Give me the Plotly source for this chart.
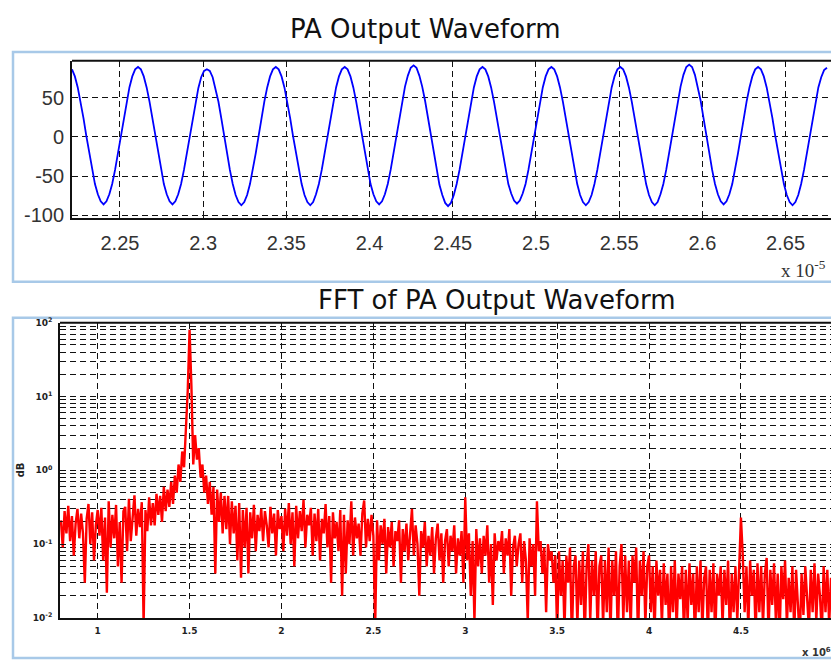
import numpy as np
import plotly.graph_objects as go

W, H = 831, 667

# ---- PA output waveform samples (time axis in units of 1e-5 s) ----
T_START = 2.2212
T_STEP = 0.001725
pa_output = [
    86, 77, 63, 45, 24, 1, -21, -42, -60, -73, -82, -86, -82, -73, -60, -42, -21, 1, 24, 45, 63, 77, 86, 89,
    86, 77, 63, 45, 24, 2, -21, -42, -60, -73, -82, -86, -82, -73, -60, -42, -21, 1, 24, 45, 62, 76, 84, 86,
    84, 76, 62, 45, 24, 1, -21, -42, -60, -74, -83, -87, -83, -74, -60, -42, -21, 1, 24, 45, 63, 77, 86, 89,
    86, 77, 63, 45, 24, 1, -21, -42, -60, -74, -83, -87, -83, -73, -60, -42, -21, 1, 24, 45, 63, 77, 86, 89,
    86, 77, 63, 45, 24, 1, -21, -42, -60, -73, -82, -86, -82, -73, -60, -42, -21, 1, 24, 46, 64, 78, 88, 91,
    88, 78, 64, 46, 24, 1, -21, -43, -61, -74, -84, -88, -84, -74, -60, -42, -21, 1, 24, 45, 63, 77, 86, 89,
    86, 77, 63, 45, 24, 1, -21, -42, -60, -72, -81, -85, -81, -72, -60, -42, -21, 1, 24, 45, 63, 77, 86, 89,
    86, 77, 63, 45, 24, 1, -21, -42, -60, -74, -83, -87, -83, -74, -60, -42, -21, 1, 24, 45, 63, 77, 86, 89,
    86, 77, 63, 45, 24, 1, -21, -42, -60, -74, -83, -87, -83, -73, -60, -42, -21, 1, 24, 46, 64, 79, 89, 92,
    89, 79, 64, 46, 24, 1, -21, -42, -60, -73, -82, -86, -82, -73, -60, -42, -21, 1, 24, 45, 63, 77, 86, 89,
    86, 77, 63, 45, 24, 1, -21, -42, -60, -74, -83, -87, -83, -74, -60, -42, -21, 1, 24, 45, 63, 76, 85, 88,
]

# ---- FFT magnitude of the waveform, one row per 0.1 of the frequency axis ----
F_START = 0.80
F_STEP = 0.01
fft_mag = [
    0.21, 0.09, 0.28, 0.14, 0.33, 0.11, 0.24, 0.07, 0.19, 0.30,      # 0.8
    0.12, 0.26, 0.14, 0.03, 0.22, 0.35, 0.10, 0.27, 0.06, 0.18,      # 0.9
    0.29, 0.13, 0.31, 0.06, 0.23, 0.022, 0.38, 0.09, 0.25, 0.12,     # 1.0
    0.34, 0.05, 0.20, 0.03, 0.28, 0.32, 0.08, 0.41, 0.11, 0.26,      # 1.1
    0.46, 0.13, 0.30, 0.17, 0.37, 0.008, 0.29, 0.15, 0.43, 0.18,     # 1.2
    0.36, 0.18, 0.48, 0.25, 0.45, 0.20, 0.60, 0.28, 0.55, 0.32,      # 1.3
    0.70, 0.35, 0.85, 0.50, 1.2, 0.70, 1.8, 1.1, 3.5, 12.0,          # 1.4
    80.0, 14.0, 1.2, 3.0, 1.4, 2.0, 0.80, 1.2, 0.50, 0.85,           # 1.5
    0.35, 0.70, 0.25, 0.60, 0.04, 0.55, 0.20, 0.50, 0.14, 0.45,      # 1.6
    0.16, 0.45, 0.10, 0.38, 0.14, 0.33, 0.06, 0.36, 0.035, 0.29,     # 1.7
    0.09, 0.31, 0.04, 0.27, 0.12, 0.34, 0.08, 0.25, 0.15, 0.30,      # 1.8
    0.11, 0.28, 0.18, 0.09, 0.32, 0.14, 0.26, 0.07, 0.29, 0.16,      # 1.9
    0.24, 0.08, 0.30, 0.13, 0.36, 0.10, 0.27, 0.05, 0.33, 0.12,      # 2.0
    0.28, 0.15, 0.40, 0.09, 0.25, 0.18, 0.31, 0.07, 0.26, 0.11,      # 2.1
    0.30, 0.06, 0.22, 0.14, 0.35, 0.09, 0.24, 0.03, 0.27, 0.12,      # 2.2
    0.20, 0.08, 0.29, 0.02, 0.25, 0.04, 0.21, 0.10, 0.38, 0.07,      # 2.3
    0.23, 0.12, 0.19, 0.07, 0.26, 0.39, 0.09, 0.22, 0.11, 0.25,      # 2.4
    0.13, 0.008, 0.21, 0.06, 0.18, 0.10, 0.22, 0.04, 0.17, 0.09,     # 2.5
    0.20, 0.05, 0.15, 0.11, 0.21, 0.03, 0.16, 0.08, 0.19, 0.06,      # 2.6
    0.14, 0.30, 0.07, 0.18, 0.10, 0.02, 0.15, 0.09, 0.20, 0.05,      # 2.7
    0.13, 0.07, 0.17, 0.04, 0.12, 0.19, 0.06, 0.14, 0.03, 0.11,      # 2.8
    0.16, 0.05, 0.13, 0.08, 0.18, 0.04, 0.12, 0.07, 0.15, 0.03,      # 2.9
    0.43, 0.06, 0.14, 0.02, 0.11, 0.009, 0.16, 0.05, 0.12, 0.04,     # 3.0
    0.13, 0.07, 0.18, 0.03, 0.10, 0.015, 0.14, 0.06, 0.11, 0.08,     # 3.1
    0.15, 0.04, 0.12, 0.07, 0.16, 0.02, 0.09, 0.13, 0.05, 0.10,      # 3.2
    0.14, 0.03, 0.11, 0.06, 0.009, 0.12, 0.05, 0.10, 0.02, 0.38,     # 3.3
    0.08, 0.11, 0.04, 0.09, 0.012, 0.10, 0.06, 0.08, 0.03, 0.07,     # 3.4
    0.006, 0.08, 0.02, 0.06, 0.007, 0.07, 0.03, 0.09, 0.005, 0.05,   # 3.5
    0.07, 0.008, 0.06, 0.015, 0.08, 0.005, 0.05, 0.10, 0.009, 0.06,  # 3.6
    0.02, 0.08, 0.006, 0.05, 0.07, 0.008, 0.06, 0.012, 0.09, 0.006,  # 3.7
    0.06, 0.02, 0.08, 0.005, 0.05, 0.10, 0.009, 0.07, 0.012, 0.06,   # 3.8
    0.007, 0.07, 0.03, 0.09, 0.005, 0.06, 0.02, 0.08, 0.008, 0.05,   # 3.9
    0.07, 0.012, 0.05, 0.006, 0.06, 0.02, 0.045, 0.008, 0.055, 0.015,# 4.0
    0.04, 0.005, 0.05, 0.012, 0.06, 0.007, 0.04, 0.018, 0.05, 0.006, # 4.1
    0.045, 0.009, 0.055, 0.015, 0.04, 0.005, 0.05, 0.012, 0.06, 0.007,# 4.2
    0.035, 0.05, 0.006, 0.045, 0.012, 0.055, 0.005, 0.04, 0.02, 0.05,# 4.3
    0.008, 0.045, 0.015, 0.06, 0.005, 0.04, 0.012, 0.05, 0.009, 0.035,# 4.4
    0.23, 0.07, 0.012, 0.05, 0.007, 0.06, 0.02, 0.045, 0.006, 0.055, # 4.5
    0.012, 0.05, 0.008, 0.04, 0.065, 0.006, 0.045, 0.015, 0.055, 0.009,# 4.6
    0.04, 0.005, 0.05, 0.018, 0.06, 0.008, 0.035, 0.012, 0.05, 0.006,# 4.7
    0.045, 0.015, 0.005, 0.04, 0.011, 0.05, 0.02, 0.007, 0.045, 0.012,# 4.8
    0.055, 0.009, 0.04, 0.02, 0.006, 0.05, 0.012, 0.045, 0.008, 0.035,# 4.9
    0.015, 0.05,                                                     # 5.0
]

# ---- axis ticks ----
time_ticks = [2.25, 2.3, 2.35, 2.4, 2.45, 2.5, 2.55, 2.6, 2.65]
time_ticklabels = ["2.25", "2.3", "2.35", "2.4", "2.45", "2.5", "2.55", "2.6", "2.65"]
amp_ticks = [-100, -50, 0, 50]
amp_ticklabels = ["-100", "-50", "0", "50"]
freq_ticks = [1, 1.5, 2, 2.5, 3, 3.5, 4, 4.5, 5]
freq_ticklabels = ["1", "1.5", "2", "2.5", "3", "3.5", "4", "4.5", "5"]
mag_ticks = [0.01, 0.1, 1, 10, 100]
mag_ticklabels = ["10<sup>-2</sup>", "10<sup>-1</sup>", "10<sup>0</sup>",
                  "10<sup>1</sup>", "10<sup>2</sup>"]
mag_minor = [m * 10.0 ** e for e in (-2, -1, 0, 1) for m in range(2, 10)]

t = T_START + T_STEP * np.arange(len(pa_output))
f = F_START + F_STEP * np.arange(len(fft_mag))


def px(xp):
    return xp / W


def py(yp):
    return 1 - yp / H


GRID = dict(showgrid=True, gridcolor="#111111", gridwidth=1.4, griddash="6px,4px")
LINE = dict(showline=True, linecolor="#111111", linewidth=1.8, zeroline=False)

fig = go.Figure()
fig.add_trace(go.Scatter(x=t, y=pa_output, mode="lines", xaxis="x", yaxis="y",
                         line=dict(color="#0000ff", width=1.8), hoverinfo="skip"))
fig.add_trace(go.Scatter(x=f, y=fft_mag, mode="lines", xaxis="x2", yaxis="y2",
                         line=dict(color="#ff0000", width=2.4), hoverinfo="skip"))

top_font = dict(family="Liberation Sans, Arial, sans-serif", size=20, color="#333333")
bot_font = dict(family="DejaVu Sans, Verdana, sans-serif", size=9, color="#222222", weight="bold")

fig.update_layout(
    width=W, height=H,
    margin=dict(l=0, r=0, t=0, b=0),
    paper_bgcolor="white", plot_bgcolor="white",
    showlegend=False,
    xaxis=dict(domain=[px(72), 1.0], range=[2.2212, 2.6773], anchor="y",
               tickmode="array", tickvals=time_ticks, ticktext=time_ticklabels,
               ticks="inside", ticklen=4, tickcolor="#111", tickfont=top_font,
               ticklabelstandoff=6, **GRID, **LINE),
    yaxis=dict(domain=[py(216), py(55)], range=[-103.4, 96.9], anchor="x",
               tickmode="array", tickvals=amp_ticks, ticktext=amp_ticklabels,
               ticks="inside", ticklen=4, tickcolor="#111", tickfont=top_font,
               ticklabelstandoff=2, **GRID, **LINE),
    xaxis2=dict(domain=[px(60), 1.0], range=[0.795, 4.99], anchor="y2",
                tickmode="array", tickvals=freq_ticks, ticktext=freq_ticklabels,
                ticks="inside", ticklen=4, tickcolor="#111", tickfont=bot_font,
                ticklabelstandoff=3, **GRID, **LINE),
    yaxis2=dict(domain=[py(625), py(323)], type="log", range=[-2, 2], anchor="x2",
                tickmode="array", tickvals=mag_ticks, ticktext=mag_ticklabels,
                ticks="inside", ticklen=4, tickcolor="#111", tickfont=bot_font,
                ticklabelstandoff=4,
                minor=dict(tickmode="array", tickvals=mag_minor, ticks="inside",
                           ticklen=2, tickcolor="#111", showgrid=True,
                           gridcolor="#111111", gridwidth=1.4, griddash="6px,4px"),
                **GRID, **LINE),
)

# top frame edges of both axes
for xr, yr in (("x domain", "y domain"), ("x2 domain", "y2 domain")):
    fig.add_shape(type="line", xref=xr, yref=yr, x0=0, x1=1, y0=1, y1=1,
                  line=dict(color="#111111", width=1.8))

# light blue panel frames
PANEL = "#a8c9e8"
fig.add_shape(type="rect", xref="paper", yref="paper",
              x0=px(13), x1=1.05, y0=py(281), y1=py(46),
              line=dict(color=PANEL, width=2.5), layer="below")
fig.add_shape(type="rect", xref="paper", yref="paper",
              x0=px(13), x1=1.05, y0=py(666), y1=py(318),
              line=dict(color=PANEL, width=2.5), layer="below")

title_font = dict(family="DejaVu Sans, Arial, sans-serif", size=26, color="#111111")
fig.add_annotation(text="PA Output Waveform", xref="paper", yref="paper",
                   x=px(425), y=py(22), xanchor="center", yanchor="middle",
                   showarrow=False, font=title_font)
fig.add_annotation(text="FFT of PA Output Waveform", xref="paper", yref="paper",
                   x=px(497), y=py(300), xanchor="center", yanchor="middle",
                   showarrow=False, font=title_font)
fig.add_annotation(text="x 10<sup>-5</sup>", xref="paper", yref="paper",
                   x=px(779), y=py(268), xanchor="left", yanchor="middle",
                   showarrow=False,
                   font=dict(family="Liberation Serif, Times New Roman, serif",
                             size=19, color="#333333"))
fig.add_annotation(text="dB", xref="paper", yref="paper",
                   x=px(20), y=py(474), xanchor="center", yanchor="middle",
                   textangle=-90, showarrow=False,
                   font=dict(family="DejaVu Sans, sans-serif", size=10,
                             color="#222222", weight="bold"))
fig.add_annotation(text="x 10<sup>6</sup>", xref="paper", yref="paper",
                   x=px(800), y=py(660), xanchor="left", yanchor="middle",
                   showarrow=False,
                   font=dict(family="DejaVu Sans, sans-serif", size=10,
                             color="#333333", weight="bold"))

fig.write_html("out.html")
